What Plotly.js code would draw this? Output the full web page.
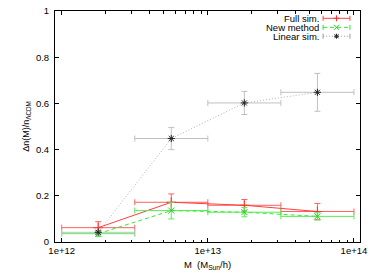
<!DOCTYPE html>
<html>
<head>
<meta charset="utf-8">
<script src="https://cdn.plot.ly/plotly-3.0.1.min.js"></script>
<style>html,body{margin:0;padding:0;background:#fff;}#chart{width:374px;height:280px;}</style>
</head>
<body>
<div id="chart"></div>
<script>
// ---- data ----
const massBinLow  = [1e12, 3.162e12, 1e13, 3.162e13];
const massBinHigh = [3.162e12, 1e13, 3.162e13, 1e14];
const massCenter  = [1.778e12, 5.623e12, 1.778e13, 5.623e13];

const fullSim      = [0.062, 0.172, 0.159, 0.132];
const fullSimErr   = [0.026, 0.036, 0.025, 0.035];
const newMethod    = [0.036, 0.136, 0.129, 0.111];
const newMethodErr = [0.012, 0.036, 0.020, 0.016];
const linearSim    = [0.042, 0.448, 0.602, 0.648];
const linearSimErr = [0.008, 0.048, 0.050, 0.082];

const seriesNames = ["Full sim.", "New method", "Linear sim."];
const xTickVals = [1e12, 1e13, 1e14];
const xTickText = ["1e+12", "1e+13", "1e+14"];
const yTickVals = [0, 0.2, 0.4, 0.6, 0.8, 1];
const yTickText = ["0", "0.2", "0.4", "0.6", "0.8", "1"];

// ---- helpers ----
const errPlus  = massCenter.map((c, i) => massBinHigh[i] - c);
const errMinus = massCenter.map((c, i) => c - massBinLow[i]);
const FONT = "Liberation Sans, Arial, sans-serif";

function trace(name, y, e, color, dash, symbol, mcolor, msize, ecolor) {
  return {
    type: "scatter", mode: "lines+markers", name: name,
    x: massCenter, y: y,
    line: {color: color, width: 1, dash: dash},
    marker: {symbol: symbol, size: msize, color: mcolor, line: {color: mcolor, width: 1}},
    error_y: {type: "data", array: e, visible: true, color: ecolor, thickness: 1, width: 3},
    error_x: {type: "data", symmetric: false, array: errPlus, arrayminus: errMinus,
              visible: true, color: ecolor, thickness: 1, width: 3},
    showlegend: false, cliponaxis: false
  };
}

const data = [
  trace(seriesNames[0], fullSim, fullSimErr, "#ff4040", "solid", "cross-thin-open", "#ff3030", 7, "#ff6060"),
  trace(seriesNames[1], newMethod, newMethodErr, "#33ee33", "4px,3px", "x-thin-open", "#22cc22", 6, "#55ee55"),
  trace(seriesNames[2], linearSim, linearSimErr, "#b4b4b4", "1px,2px", "asterisk-open", "#222222", 6, "#c0c0c0")
];

// ---- custom gnuplot-style legend (text left, sample right) ----
const legColors = ["#ff4040", "#33dd33", "#999999"];
const legDash = ["solid", "4px,3px", "1px,2px"];
const legMarkColor = ["#ff3030", "#22cc22", "#222222"];
const legY = [0.9684, 0.9293, 0.8908];
const legTextX = 0.869, legX0 = 0.879, legX1 = 0.967, legXM = 0.923;
const annotations = [], shapes = [];
seriesNames.forEach((n, i) => {
  annotations.push({xref: "paper", yref: "paper", x: legTextX, y: legY[i], text: n,
    showarrow: false, xanchor: "right", yanchor: "middle", height: 8, borderpad: 0,
    font: {family: FONT, size: 9.5, color: "#000"}});
  shapes.push({type: "line", xref: "paper", yref: "paper", x0: legX0, x1: legX1, y0: legY[i], y1: legY[i],
    line: {color: legColors[i], width: 1, dash: legDash[i]}});
  [legX0, legX1].forEach(xx => shapes.push({type: "line", xref: "paper", yref: "paper",
    xsizemode: "pixel", ysizemode: "pixel", xanchor: xx, yanchor: legY[i],
    x0: 0, x1: 0, y0: -2.5, y1: 2.5, line: {color: legColors[i], width: 1}}));
  const mk = (x0, y0, x1, y1) => shapes.push({type: "line", xref: "paper", yref: "paper",
    xsizemode: "pixel", ysizemode: "pixel", xanchor: legXM, yanchor: legY[i],
    x0: x0, x1: x1, y0: y0, y1: y1, line: {color: legMarkColor[i], width: 1}});
  if (i === 0) { mk(-3, 0, 3, 0); mk(0, -3, 0, 3); }
  else if (i === 1) { mk(-2.5, -2.5, 2.5, 2.5); mk(-2.5, 2.5, 2.5, -2.5); }
  else { mk(-2.5, 0, 2.5, 0); mk(0, -2.5, 0, 2.5); mk(-2, -2, 2, 2); mk(-2, 2, 2, -2); }
});

const layout = {
  width: 374, height: 280,
  margin: {l: 55, r: 14, t: 11, b: 38, pad: 0},
  paper_bgcolor: "#fff", plot_bgcolor: "#fff",
  font: {family: FONT, size: 9.5, color: "#000"},
  showlegend: false,
  xaxis: {
    type: "log", range: [Math.log10(0.9e12), Math.log10(1.1e14)],
    showline: true, linecolor: "#000", linewidth: 1, mirror: "allticks",
    ticks: "inside", ticklen: 4, tickcolor: "#000", tickwidth: 1,
    tickvals: xTickVals, ticktext: xTickText, showgrid: false, zeroline: false,
    tickfont: {family: FONT, size: 9.5},
    minor: {ticks: "inside", ticklen: 2.5, tickcolor: "#000", dtick: "D1", showgrid: false},
    title: {text: "M  (M<sub>Sun</sub>/h)", font: {family: FONT, size: 9.5}, standoff: 5}
  },
  yaxis: {
    range: [0, 1], showline: true, linecolor: "#000", linewidth: 1, mirror: "allticks",
    ticks: "inside", ticklen: 4, tickcolor: "#000", tickwidth: 1,
    tickvals: yTickVals, ticktext: yTickText, showgrid: false, zeroline: false,
    tickfont: {family: FONT, size: 9.5}, ticklabelstandoff: 3,
    title: {text: "Δn(M)/n<sub>ΛCDM</sub>", font: {family: FONT, size: 9}, standoff: 4}
  },
  annotations: annotations, shapes: shapes
};

Plotly.newPlot("chart", data, layout, {staticPlot: true, displayModeBar: false});
</script>
</body>
</html>
